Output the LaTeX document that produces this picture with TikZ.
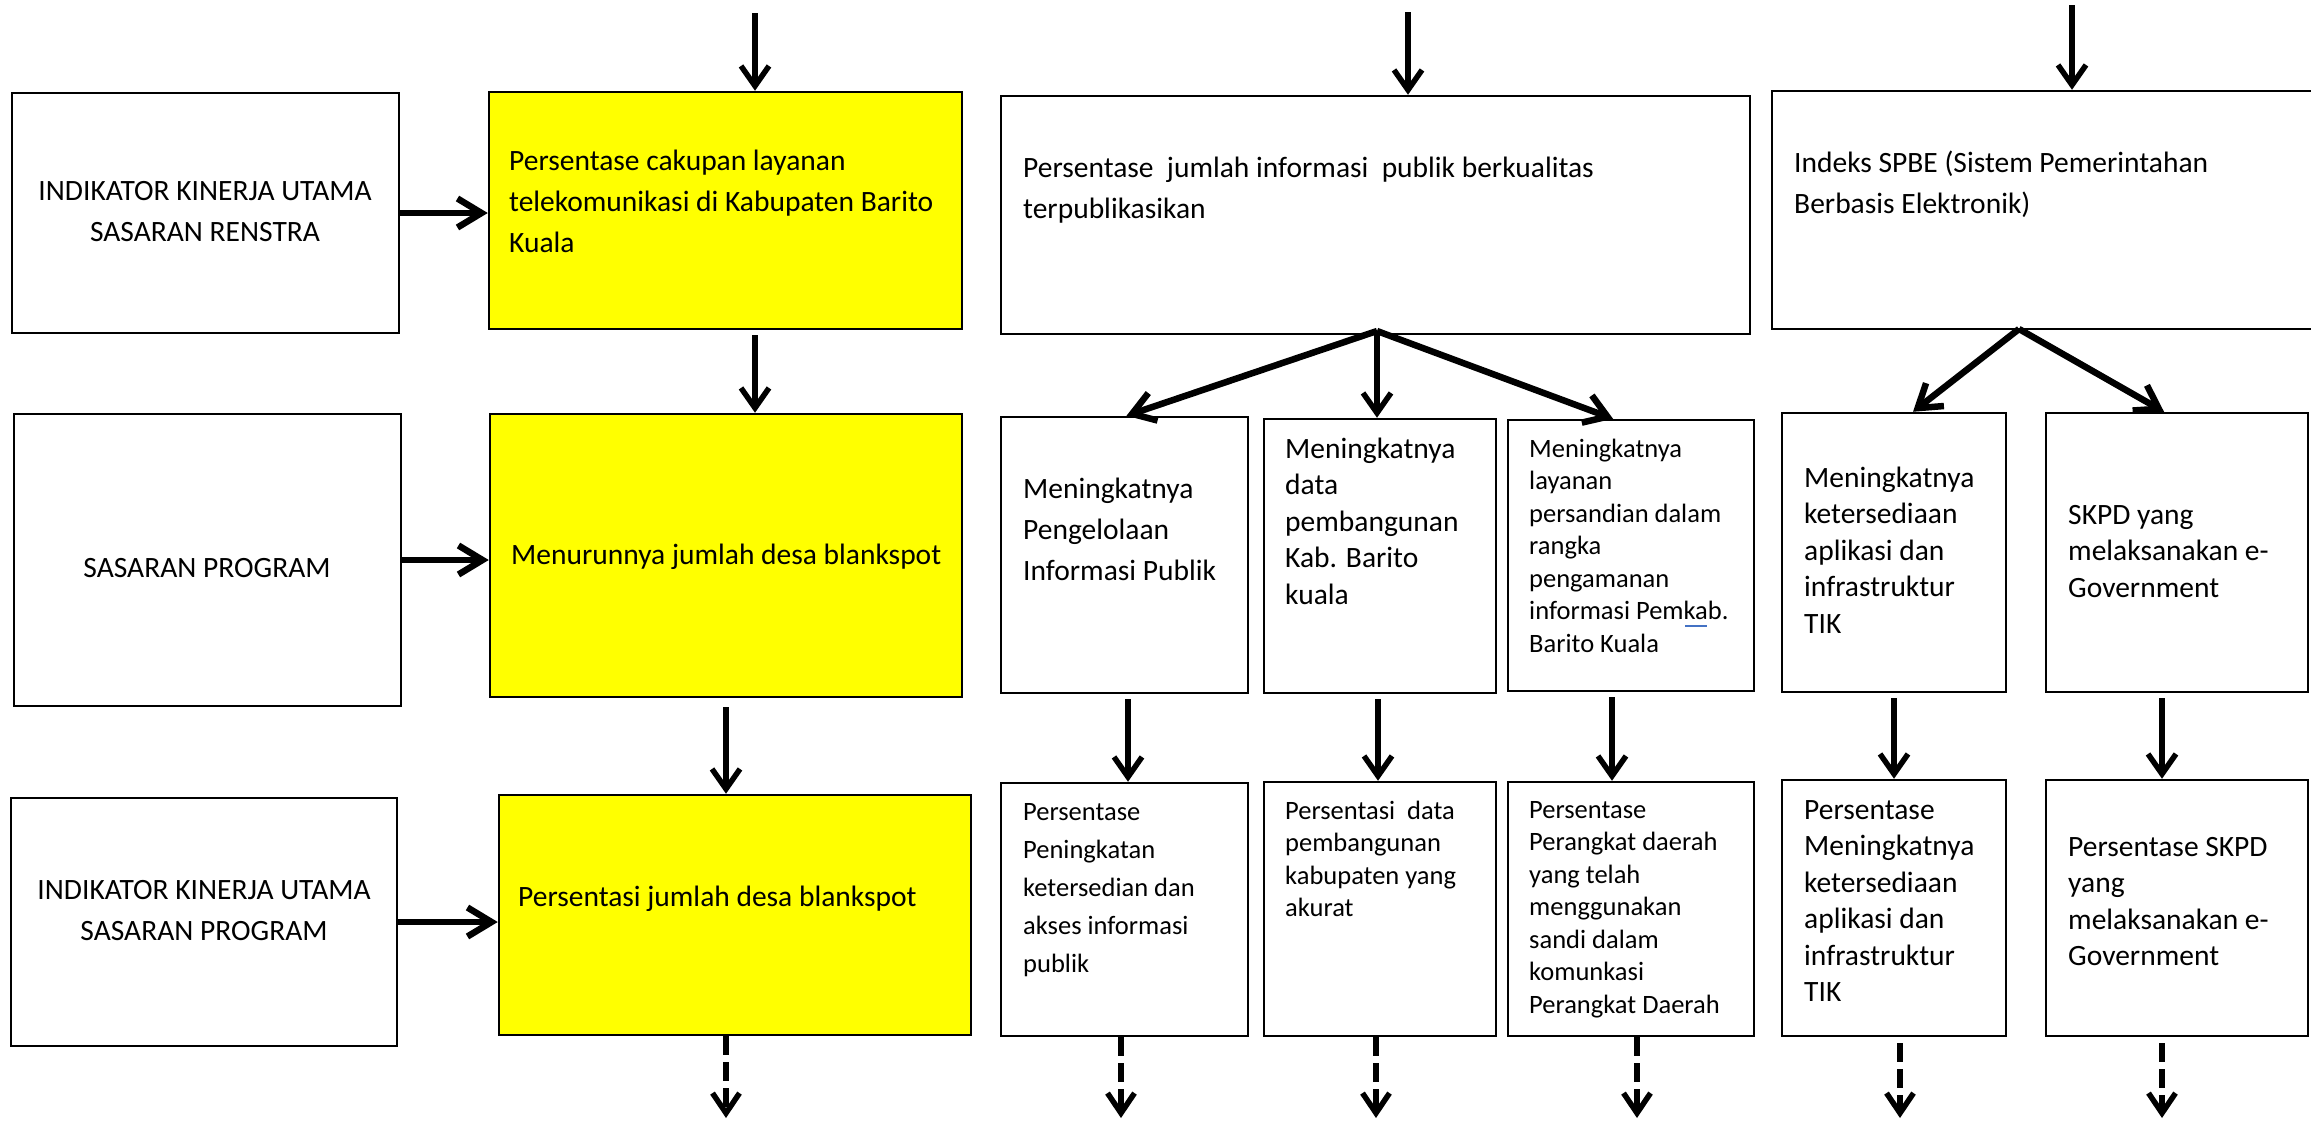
\documentclass[tikz,border=0pt]{standalone}
\usepackage{fontspec}
\setmainfont{Carlito}
\usetikzlibrary{arrows.meta,fit,calc}
\definecolor{boxyellow}{RGB}{255,255,0}
\definecolor{spellblue}{RGB}{68,114,196}
\newcommand{\fl}{\rule{0pt}{0.75em}}
\begin{document}
\begin{tikzpicture}[x=1pt,y=-1pt,
  box/.style={draw=black, line width=2.5pt, inner sep=0pt},
  ybox/.style={box, fill=boxyellow},
  tA/.style={font=\fontsize{29.5}{41}\selectfont, align=left, inner sep=0pt, anchor=north west},
  tB/.style={font=\fontsize{29.5}{36.5}\selectfont, align=left, inner sep=0pt, anchor=north west},
  tS/.style={font=\fontsize{26.5}{32.5}\selectfont, align=left, inner sep=0pt, anchor=north west},
  tC/.style={font=\fontsize{26.5}{38}\selectfont, align=left, inner sep=0pt, anchor=north west},
  tL/.style={font=\fontsize{29.5}{41}\selectfont, align=center, inner sep=0pt},
  varr/.style={line width=5.5pt, -{Straight Barb[length=20pt,width=28pt]}},
  harr/.style={line width=6.5pt, -{Straight Barb[length=24pt,width=29pt]}},
  farr/.style={line width=6.5pt, -{Straight Barb[length=22pt,width=29pt]}},
  darr/.style={line width=5.5pt, dash pattern=on 19pt off 7pt, -{Straight Barb[length=20pt,width=27pt]}}
]
\clip (0,0) rectangle (2311,1122);
\fill[white] (0,0) rectangle (2311,1122);

% left column boxes
\node[box,  fit={(12,93) (399,333)}]   (L1) {};
\node[ybox, fit={(489,92) (962,329)}]  (Y1) {};
\node[box,  fit={(14,414) (401,706)}]  (L2) {};
\node[ybox, fit={(490,414) (962,697)}] (Y2) {};
\node[box,  fit={(11,798) (397,1046)}] (L3) {};
\node[ybox, fit={(499,795) (971,1035)}] (Y3) {};

% top right boxes
\node[box, fit={(1001,96) (1750,334)}] (M1) {};
\node[box, fit={(1772,91) (2345,329)}] (R1) {};

% middle row
\node[box, fit={(1001,417) (1248,693)}] (B1) {};
\node[box, fit={(1264,419) (1496,693)}] (B2) {};
\node[box, fit={(1508,420) (1754,691)}] (B3) {};
\node[box, fit={(1782,413) (2006,692)}] (B4) {};
\node[box, fit={(2046,413) (2308,692)}] (B5) {};

% bottom row
\node[box, fit={(1001,783) (1248,1036)}] (C1) {};
\node[box, fit={(1264,782) (1496,1036)}] (C2) {};
\node[box, fit={(1508,782) (1754,1036)}] (C3) {};
\node[box, fit={(1782,780) (2006,1036)}] (C4) {};
\node[box, fit={(2046,780) (2308,1036)}] (C5) {};

% texts
\node[tL] (tL1) at (205,212) {INDIKATOR KINERJA UTAMA\\SASARAN RENSTRA};
\node[tL] (tL2) at (207,568) {SASARAN PROGRAM};
\node[tL] (tL3) at (204,911) {INDIKATOR KINERJA UTAMA\\SASARAN PROGRAM};

\node[tA] (tY1) at (509,148) {\fl Persentase cakupan layanan\\telekomunikasi di Kabupaten Barito\\Kuala};
\node[tA] (tY2) at (511,542) {\fl Menurunnya jumlah desa blankspot};
\node[tA] (tY3) at (518,884) {\fl Persentasi jumlah desa blankspot};

\node[tA] (tM1) at (1023,155) {\fl Persentase~ jumlah informasi~ publik berkualitas\\terpublikasikan};
\node[tA] (tR1) at (1794,150) {\fl Indeks SPBE (Sistem Pemerintahan\\Berbasis Elektronik)};

\node[tA] (tB1) at (1023,476) {\fl Meningkatnya\\Pengelolaan\\Informasi Publik};
\node[tB] (tB2) at (1285,436) {\fl Meningkatnya\\data\\pembangunan\\Kab. Barito\\kuala};
\node[tS] (tB3) at (1529,437) {\fl Meningkatnya\\layanan\\persandian dalam\\rangka\\pengamanan\\informasi Pemkab.\\Barito Kuala};
\node[tB] (tB4) at (1804,465) {\fl Meningkatnya\\ketersediaan\\aplikasi dan\\infrastruktur\\TIK};
\node[tB] (tB5) at (2068,502) {\fl SKPD yang\\melaksanakan e-\\Government};

\node[tC] (tC1) at (1023,800) {\fl Persentase\\Peningkatan\\ketersedian dan\\akses informasi\\publik};
\node[tS] (tC2) at (1285,799) {\fl Persentasi~ data\\pembangunan\\kabupaten yang\\akurat};
\node[tS] (tC3) at (1529,798) {\fl Persentase\\Perangkat daerah\\yang telah\\menggunakan\\sandi dalam\\komunkasi\\Perangkat Daerah};
\node[tB] (tC4) at (1804,797) {\fl Persentase\\Meningkatnya\\ketersediaan\\aplikasi dan\\infrastruktur\\TIK};
\node[tB] (tC5) at (2068,834) {\fl Persentase SKPD\\yang\\melaksanakan e-\\Government};

% spell-check underline
\draw[spellblue, line width=2pt] (1685,626) -- (1707,626);

% incoming top arrows
\coordinate (inA) at (755,13);
\coordinate (inM) at (1408,12);
\coordinate (inR) at (2072,5);
\draw[varr] (inA) -- (inA |- Y1.north);
\draw[varr] (inM) -- (inM |- M1.north);
\draw[varr] (inR) -- (inR |- R1.north);

% left column
\draw[harr] (L1.east) -- (L1.east -| Y1.west);
\draw[harr] (L2.east) -- (L2.east -| Y2.west);
\draw[harr] (L3.east) -- (L3.east -| Y3.west);
\draw[varr, shorten <=5pt] (Y1.south -| inA) -- (Y2.north -| inA);
\coordinate (colY) at (726,0);
\draw[varr, shorten <=9pt] (Y2.south -| colY) -- (Y3.north -| colY);
\coordinate (eY) at (726,1118);
\draw[darr] (Y3.south -| eY) -- (eY);

% fans
\coordinate (fanM) at (1377,331);
\draw[farr] (fanM) -- ($(B1.north)+(2,0)$);
\draw[varr] (fanM) -- (fanM |- B2.north);
\draw[farr] (fanM) -- ($(B3.north)+(-18,0)$);
\coordinate (fanR) at (2019,329);
\draw[farr] (fanR) -- ($(B4.north)+(19,0)$);
\draw[farr] (fanR) -- ($(B5.north)+(-13,0)$);

% middle to bottom
\coordinate (k1) at (1128,0);
\coordinate (k2) at (1378,0);
\coordinate (k3) at (1612,0);
\coordinate (k4) at (1894,0);
\coordinate (k5) at (2162,0);
\draw[varr, shorten <=5pt] (B1.south -| k1) -- (C1.north -| k1);
\draw[varr, shorten <=5pt] (B2.south -| k2) -- (C2.north -| k2);
\draw[varr, shorten <=5pt] (B3.south -| k3) -- (C3.north -| k3);
\draw[varr, shorten <=5pt] (B4.south -| k4) -- (C4.north -| k4);
\draw[varr, shorten <=5pt] (B5.south -| k5) -- (C5.north -| k5);

% dashed outgoing
\coordinate (e1) at (1121,1118);
\coordinate (e2) at (1376,1118);
\coordinate (e3) at (1637,1118);
\coordinate (e4) at (1900,1118);
\coordinate (e5) at (2162,1118);
\draw[darr] (C1.south -| e1) -- (e1);
\draw[darr] (C2.south -| e2) -- (e2);
\draw[darr] (C3.south -| e3) -- (e3);
\draw[darr, shorten <=6pt] (C4.south -| e4) -- (e4);
\draw[darr, shorten <=6pt] (C5.south -| e5) -- (e5);
\end{tikzpicture}
\end{document}
